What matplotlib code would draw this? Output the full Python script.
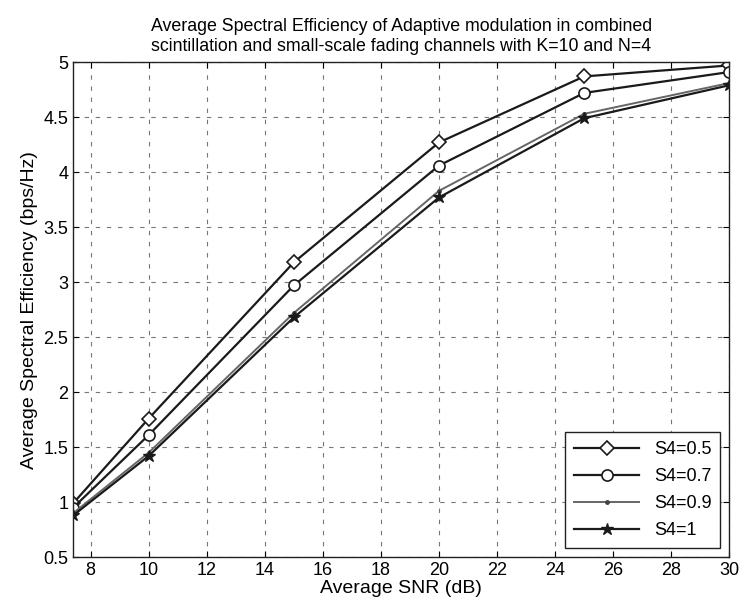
import matplotlib.pyplot as plt

plt.rcParams["font.family"] = ["Liberation Sans", "DejaVu Sans"]

# Average SNR (dB) sample points
snr = [7.4, 10, 15, 20, 25, 30]

# Average spectral efficiency (bps/Hz) per scintillation index
se_s05 = [0.99, 1.76, 3.18, 4.27, 4.87, 4.97]
se_s07 = [0.95, 1.61, 2.97, 4.06, 4.72, 4.91]
se_s09 = [0.90, 1.45, 2.72, 3.83, 4.53, 4.81]
se_s10 = [0.88, 1.42, 2.68, 3.77, 4.49, 4.79]

labels = ["S4=0.5", "S4=0.7", "S4=0.9", "S4=1"]

fig = plt.figure(figsize=(7.39, 6.15), dpi=100)
ax = fig.add_axes([0.099, 0.094, 0.888, 0.805])

ax.plot(snr, se_s05, color="#1a1a1a", lw=1.6, marker="D", ms=7,
        mfc="white", mec="#1a1a1a", mew=1.2, label=labels[0])
ax.plot(snr, se_s07, color="#1a1a1a", lw=1.6, marker="o", ms=8,
        mfc="white", mec="#1a1a1a", mew=1.2, label=labels[1])
ax.plot(snr, se_s09, color="#666666", lw=1.4, marker=".", ms=5,
        mfc="#444444", mec="#444444", label=labels[2])
ax.plot(snr, se_s10, color="#1a1a1a", lw=1.6, marker="*", ms=9,
        mfc="#1a1a1a", mec="#1a1a1a", label=labels[3])

ax.set_xlim(7.4, 30)
ax.set_ylim(0.5, 5)
ax.set_xticks(range(8, 31, 2))
ax.set_yticks([0.5, 1, 1.5, 2, 2.5, 3, 3.5, 4, 4.5, 5])
ax.set_yticklabels(["0.5", "1", "1.5", "2", "2.5", "3", "3.5", "4", "4.5", "5"])
ax.tick_params(direction="in", labelsize=13, length=4, top=True, right=True)
ax.grid(True, color="#777777", lw=0.8, linestyle=(0, (4, 6)))

for s in ax.spines.values():
    s.set_linewidth(1.0)
    s.set_color("#222222")

ax.set_xlabel("Average SNR (dB)", fontsize=14, labelpad=1)
ax.set_ylabel("Average Spectral Efficiency (bps/Hz)", fontsize=14, labelpad=4)
ax.set_title("Average Spectral Efficiency of Adaptive modulation in combined\n"
             "scintillation and small-scale fading channels with K=10 and N=4",
             fontsize=12.8, pad=8)

leg = ax.legend(loc="lower right", fontsize=13, fancybox=False, framealpha=1,
                edgecolor="#222222", handlelength=3.6, borderpad=0.5,
                labelspacing=0.55, borderaxespad=0.5)
leg.get_frame().set_linewidth(1.0)

fig.savefig("out.png", dpi=100)
